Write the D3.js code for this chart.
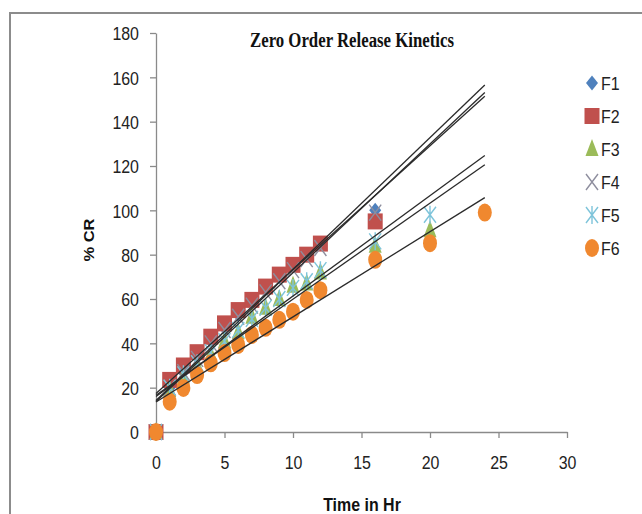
<!DOCTYPE html>
<html><head><meta charset="utf-8">
<script src="https://cdn.jsdelivr.net/npm/d3@7"></script>
<style>
html,body{margin:0;padding:0;background:#fff;}
svg{display:block;}
</style></head>
<body>
<svg id="chart" width="642" height="514"></svg>
<script>
// ---- data ----
const title = "Zero Order Release Kinetics";
const xLabel = "Time in Hr";
const yLabel = "% CR";
const seriesNames = ["F1","F2","F3","F4","F5","F6"];
const timeF1 = [0,1,2,3,4,5,6,7,8,9,10,11,12,16];
const F1 = [0,20,27,34,41,47,53,59,65,70,75,80,85,100];
const timeF2 = [0,1,2,3,4,5,6,7,8,9,10,11,12,16];
const F2 = [0,23.5,30,36,43,49,55,59.6,65.6,71,75.4,80,85,95];
const timeF3 = [0,1,2,3,4,5,6,7,8,9,10,11,12,16,20];
const F3 = [0,19,25,30,35,41,45,52,56,60,66,67,72,84,91];
const timeF4 = [0,1,2,3,4,5,6,7,8,9,10,11,12,16];
const F4 = [0,20,27,33,40,46,52,57,63,68,73,78,83,99];
const timeF5 = [0,1,2,3,4,5,6,7,8,9,10,11,12,16,20];
const F5 = [0,20,26,31,36,41,46,51,56,60,65,68,73,86,98];
const timeF6 = [0,1,2,3,4,5,6,7,8,9,10,11,12,16,20,24];
const F6 = [0,13.7,19.9,25.7,31,35.6,39.3,43.8,47,50.6,54.3,59.6,64,77.7,85.2,99];
const trendRange = [0,24];
const xTicks = [0,5,10,15,20,25,30];
const yTicks = [0,20,40,60,80,100,120,140,160,180];

const series = [
  {name:"F1", t:timeF1, v:F1, color:"#4F81BD", shape:"diamond"},
  {name:"F2", t:timeF2, v:F2, color:"#C0504D", shape:"square"},
  {name:"F3", t:timeF3, v:F3, color:"#9BBB59", shape:"triangle"},
  {name:"F4", t:timeF4, v:F4, color:"#8E8E9E", shape:"x"},
  {name:"F5", t:timeF5, v:F5, color:"#7EC4DA", shape:"star"},
  {name:"F6", t:timeF6, v:F6, color:"#F0882F", shape:"circle"}
];

// ---- layout ----
const svg = d3.select("#chart");
const x = d3.scaleLinear().domain([0,30]).range([156,567]);
const y = d3.scaleLinear().domain([0,180]).range([432,33]);
const axisColor = "#8a8a8a";
const sansFont = "'Liberation Sans','Arial',sans-serif";
const SQ = 0.84; // horizontal squeeze of the reference's text

function squeeze(sel){
  sel.each(function(){
    const t = d3.select(this);
    const xv = +t.attr("x") || 0;
    t.attr("x", xv/SQ).attr("transform", `scale(${SQ},1)`);
  });
}

// outer frame
svg.append("path").attr("d","M10,514 L10,13 L642,13").attr("fill","none")
  .attr("stroke","#8c8c8c").attr("stroke-width",2);

// axes
const xAxis = svg.append("g").attr("transform","translate(0,432)")
  .call(d3.axisBottom(x).tickValues(xTicks).tickSize(6).tickPadding(18).tickSizeOuter(0));
const yAxis = svg.append("g").attr("transform","translate(156,0)")
  .call(d3.axisLeft(y).tickValues(yTicks).tickSize(6).tickPadding(11).tickSizeOuter(0));
[xAxis,yAxis].forEach(g=>{
  g.selectAll("path,line").attr("stroke",axisColor).attr("stroke-width",1.3);
  g.selectAll("text").attr("fill","#222").style("font-family",sansFont).style("font-size","19px");
  squeeze(g.selectAll("text"));
});
xAxis.selectAll("text").attr("dy","0.71em");
yAxis.selectAll("text").attr("dy","0.36em");

// marker symbols
function drawMarker(g, shape, cx, cy, color){
  if(shape==="diamond"){
    g.append("path").attr("d",`M${cx},${cy-7.5}L${cx+6},${cy}L${cx},${cy+7.5}L${cx-6},${cy}Z`).attr("fill",color);
  } else if(shape==="square"){
    g.append("rect").attr("x",cx-7.5).attr("y",cy-8).attr("width",15).attr("height",16).attr("fill",color);
  } else if(shape==="triangle"){
    g.append("path").attr("d",`M${cx},${cy-10}L${cx+6.5},${cy+7}L${cx-6.5},${cy+7}Z`).attr("fill",color);
  } else if(shape==="x"){
    g.append("path").attr("d",`M${cx-6},${cy-8}L${cx+6},${cy+8}M${cx+6},${cy-8}L${cx-6},${cy+8}`)
      .attr("stroke",color).attr("stroke-width",1.4).attr("fill","none");
  } else if(shape==="star"){
    g.append("path").attr("d",`M${cx-6},${cy-8}L${cx+6},${cy+8}M${cx+6},${cy-8}L${cx-6},${cy+8}M${cx},${cy-9}L${cx},${cy+9}`)
      .attr("stroke",color).attr("stroke-width",1.4).attr("fill","none");
  } else if(shape==="circle"){
    g.append("ellipse").attr("cx",cx).attr("cy",cy).attr("rx",7).attr("ry",9).attr("fill",color);
  }
}

// points
const pts = svg.append("g");
series.forEach(s=>{
  s.t.forEach((t,i)=>drawMarker(pts, s.shape, x(t), y(s.v[i]), s.color));
});

// linear trendlines (least squares)
function fit(ts, vs){
  const n=ts.length, mx=d3.mean(ts), my=d3.mean(vs);
  let sxy=0,sxx=0;
  for(let i=0;i<n;i++){sxy+=(ts[i]-mx)*(vs[i]-my);sxx+=(ts[i]-mx)**2;}
  const b=sxy/sxx; return {b, a:my-b*mx};
}
const lines = svg.append("g");
series.forEach(s=>{
  const f=fit(s.t,s.v);
  lines.append("line")
    .attr("x1",x(trendRange[0])).attr("y1",y(f.a+f.b*trendRange[0]))
    .attr("x2",x(trendRange[1])).attr("y2",y(f.a+f.b*trendRange[1]))
    .attr("stroke","#2b2b2b").attr("stroke-width",1.3);
});

// title & labels
const tt = svg.append("text").attr("x",352).attr("y",47).attr("text-anchor","middle")
  .style("font-family","'Liberation Serif','Times New Roman',serif").style("font-weight","bold")
  .style("font-size","20px").attr("fill","#111").text(title);
squeeze(tt);
const xl = svg.append("text").attr("x",362).attr("y",511).attr("text-anchor","middle")
  .style("font-family",sansFont).style("font-weight","bold")
  .style("font-size","19px").attr("fill","#111").text(xLabel);
squeeze(xl);
svg.append("g").attr("transform","translate(94,240) scale(0.9,1)")
  .append("text").attr("transform","rotate(-90)").attr("text-anchor","middle")
  .style("font-family",sansFont).style("font-weight","bold")
  .style("font-size","16.5px").attr("fill","#111").text(yLabel);

// legend
const leg = svg.append("g");
series.forEach((s,i)=>{
  const cy = 83 + i*33;
  drawMarker(leg, s.shape, 592, cy, s.color);
  const lt = leg.append("text").attr("x",601).attr("y",cy).attr("dy","0.36em")
    .style("font-family",sansFont).style("font-size","19px").attr("fill","#222").text(s.name);
  squeeze(lt);
});
</script>
</body></html>
